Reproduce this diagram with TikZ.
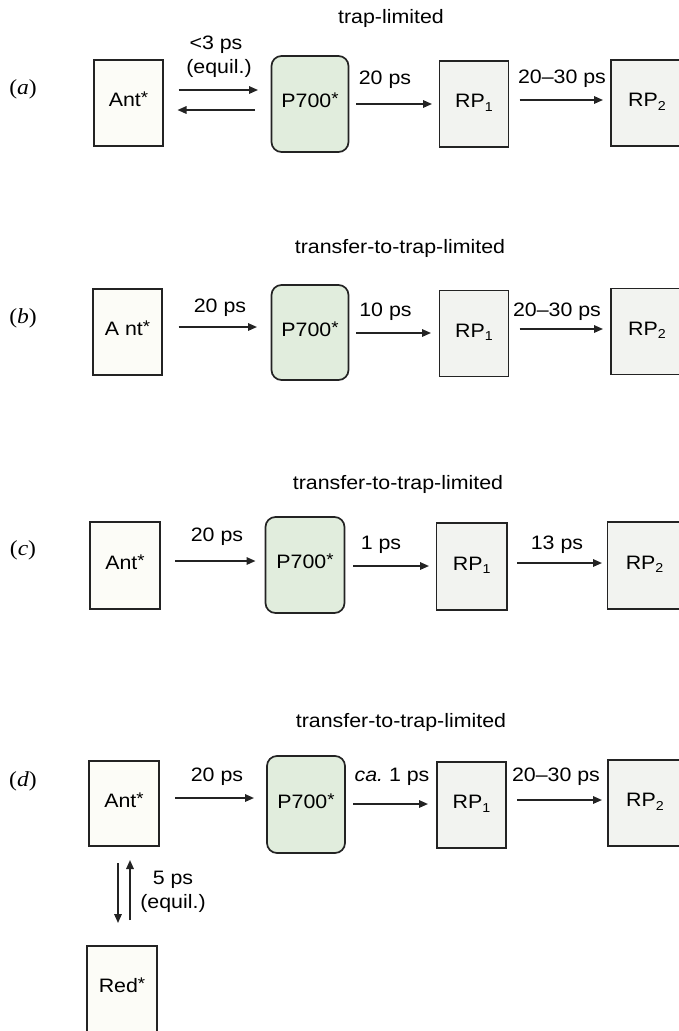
\documentclass[tikz,border=0pt]{standalone}
\usepackage{fontspec}
\setmainfont{Liberation Sans}[FakeStretch=1.1]
\newfontfamily\panelfont{Liberation Serif}[FakeStretch=1.1]
\usetikzlibrary{arrows.meta}
\definecolor{antfill}{RGB}{252,252,247}
\definecolor{trapfill}{RGB}{225,237,221}
\definecolor{rpfill}{RGB}{242,243,240}
\definecolor{inkgray}{RGB}{35,35,35}
\newcommand\exstar{\raisebox{3bp}{\fontsize{17}{17}\selectfont *}}
\newcommand\lowidx[1]{\raisebox{-0.35ex}{\fontsize{13}{13}\selectfont #1}}
\newcommand\panel[1]{{\panelfont(\textit{#1})}}
\tikzset{
  box/.style={draw=inkgray, line width=1.7bp, inner sep=0pt, outer sep=0pt,
              minimum width=69bp, minimum height=86bp,
              text height=15bp, text depth=8bp},
  antbox/.style={box, fill=antfill},
  rpbox/.style={box, fill=rpfill},
  trapbox/.style={box, fill=trapfill, rounded corners=10bp,
                  minimum width=77bp, minimum height=96bp},
  arr/.style={draw=inkgray, line width=1.6bp, -{Triangle[length=9bp,width=7.5bp]}},
  lbl/.style={inner sep=0pt},
  plabel/.style={inner sep=0pt, font=\panelfont\fontsize{21.5}{24}\selectfont}
}
\begin{document}
\begin{tikzpicture}[x=1bp, y=-1bp, font=\fontsize{19.5}{23}\selectfont]
\fill[white] (0,0) rectangle (679,1031);
\useasboundingbox (0,0) rectangle (679,1031);
\begin{scope}
\clip (0,0) rectangle (679,1031);

% ---- (a) trap-limited ----
\node[plabel] (pa) at (23,89) {\panel{a}};
\node[lbl] (ta) at (391,18) {trap-limited};
\node[antbox] (antA) at (128.5,103) {Ant\exstar};
\node[trapbox] (trapA) at (310,104) {P700\exstar};
\node[rpbox] (rp1A) at (474,104) {RP\lowidx{1}};
\node[rpbox, minimum width=72bp] (rp2A) at (647,103) {RP\lowidx{2}};
\draw[arr, shorten <=15.5bp, shorten >=13.5bp] (antA.east |- 0,90) -- (trapA.west |- 0,90);
\draw[arr, shorten <=16.5bp, shorten >=14.5bp] (trapA.west |- 0,110) -- (antA.east |- 0,110);
\draw[arr, shorten <=7.5bp, shorten >=7.5bp] (trapA.east |- 0,104) -- (rp1A.west |- 0,104);
\draw[arr, shorten <=11bp, shorten >=8bp] (rp1A.east |- 0,100) -- (rp2A.west |- 0,100);
\node[lbl] (la1) at (216,45) {<3 ps};
\node[lbl] (la2) at (219,68) {(equil.)};
\node[lbl] (la3) at (385,80) {20 ps};
\node[lbl] (la4) at (562,79) {20--30 ps};

% ---- (b) transfer-to-trap-limited ----
\node[plabel] (pb) at (23,318) {\panel{b}};
\node[lbl] (tb) at (400,248) {transfer-to-trap-limited};
\node[antbox] (antB) at (127.5,332) {A nt\exstar};
\node[trapbox, minimum height=95bp] (trapB) at (310,332.5) {P700\exstar};
\node[rpbox] (rp1B) at (474,333.5) {RP\lowidx{1}};
\node[rpbox, minimum width=72bp] (rp2B) at (647,331.5) {RP\lowidx{2}};
\draw[arr, shorten <=16.5bp, shorten >=14.5bp] (antB.east |- 0,327) -- (trapB.west |- 0,327);
\draw[arr, shorten <=7.5bp, shorten >=8.5bp] (trapB.east |- 0,333) -- (rp1B.west |- 0,333);
\draw[arr, shorten <=11bp, shorten >=8bp] (rp1B.east |- 0,329) -- (rp2B.west |- 0,329);
\node[lbl] (lb1) at (220,308) {20 ps};
\node[lbl] (lb2) at (385.5,312) {10 ps};
\node[lbl] (lb3) at (557,312) {20--30 ps};

% ---- (c) transfer-to-trap-limited ----
\node[plabel] (pc) at (23,550) {\panel{c}};
\node[lbl] (tc) at (398,484) {transfer-to-trap-limited};
\node[antbox, minimum width=70bp, minimum height=87bp] (antC) at (125,565.5) {Ant\exstar};
\node[trapbox, minimum width=79bp] (trapC) at (305,565) {P700\exstar};
\node[rpbox, minimum width=70.5bp, minimum height=87bp] (rp1C) at (471.75,566.5) {RP\lowidx{1}};
\node[rpbox, minimum width=74bp, minimum height=87bp] (rp2C) at (644.6,565.5) {RP\lowidx{2}};
\draw[arr, shorten <=15bp, shorten >=10bp] (antC.east |- 0,561) -- (trapC.west |- 0,561);
\draw[arr, shorten <=8.5bp, shorten >=7.5bp] (trapC.east |- 0,566) -- (rp1C.west |- 0,566);
\draw[arr, shorten <=10bp, shorten >=5.6bp] (rp1C.east |- 0,563) -- (rp2C.west |- 0,563);
\node[lbl] (lc1) at (217,537) {20 ps};
\node[lbl] (lc2) at (381,545) {1 ps};
\node[lbl] (lc3) at (557,545) {13 ps};

% ---- (d) transfer-to-trap-limited, with red pool ----
\node[plabel] (pd) at (23,781) {\panel{d}};
\node[lbl] (td) at (401,722) {transfer-to-trap-limited};
\node[antbox, minimum width=70bp, minimum height=85bp] (antD) at (124,803.5) {Ant\exstar};
\node[trapbox, minimum width=78bp, minimum height=97bp] (trapD) at (306,804.5) {P700\exstar};
\node[rpbox] (rp1D) at (471.5,805) {RP\lowidx{1}};
\node[rpbox, minimum width=74bp] (rp2D) at (645,803) {RP\lowidx{2}};
\node[antbox, minimum width=70bp] (redD) at (122,989) {Red\exstar};
\draw[arr, shorten <=16bp, shorten >=13bp] (antD.east |- 0,798) -- (trapD.west |- 0,798);
\draw[arr, shorten <=8bp, shorten >=9bp] (trapD.east |- 0,804) -- (rp1D.west |- 0,804);
\draw[arr, shorten <=11bp, shorten >=6bp] (rp1D.east |- 0,800) -- (rp2D.west |- 0,800);
\draw[arr, shorten <=17bp, shorten >=23bp] (antD.south -| 118,0) -- (redD.north -| 118,0);
\draw[arr, shorten <=26bp, shorten >=14bp] (redD.north -| 130,0) -- (antD.south -| 130,0);
\node[lbl] (ld1) at (217,777) {20 ps};
\node[lbl] (ld2) at (392,777) {\textit{ca.}\ 1 ps};
\node[lbl] (ld3) at (556,777) {20--30 ps};
\node[lbl] (ld4) at (173,880) {5 ps};
\node[lbl] (ld5) at (173,903) {(equil.)};
\end{scope}
\end{tikzpicture}
\end{document}
